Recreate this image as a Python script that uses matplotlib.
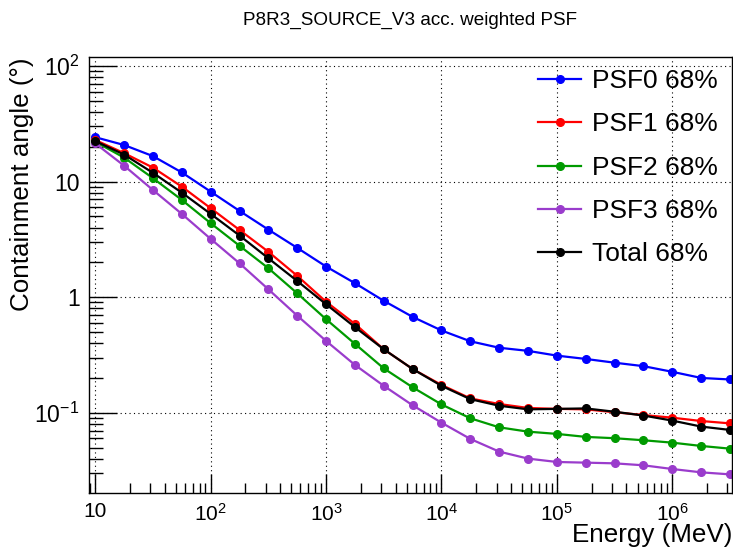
"""
Containment angle vs energy for P8R3_SOURCE_V3 PSF event types (ROOT-like style).
"""
import numpy as np
import matplotlib
matplotlib.use("Agg")
import matplotlib.pyplot as plt
import matplotlib.ticker as mtick

plt.rcParams["font.family"] = ["Liberation Sans", "DejaVu Sans"]
plt.rcParams["mathtext.fontset"] = "custom"
plt.rcParams["mathtext.rm"] = "Liberation Sans"
plt.rcParams["mathtext.it"] = "Liberation Sans:italic"

# energies: 10 MeV to 10^6.5 MeV in quarter-decade steps
energy = [10.0, 17.8, 31.6, 56.2, 100.0, 178.0, 316.0, 562.0, 1000.0, 1780.0,
          3160.0, 5620.0, 1.0e4, 1.78e4, 3.16e4, 5.62e4, 1.0e5, 1.78e5, 3.16e5,
          5.62e5, 1.0e6, 1.78e6, 3.16e6]

psf0 = [24.2, 20.7, 16.6, 12.0, 8.18, 5.57, 3.84, 2.67, 1.84, 1.32, 0.93, 0.675,
        0.515, 0.415, 0.365, 0.343, 0.312, 0.292, 0.271, 0.253, 0.226, 0.200, 0.194]
psf1 = [22.9, 17.6, 13.2, 9.04, 5.88, 3.81, 2.47, 1.53, 0.912, 0.586, 0.354, 0.239,
        0.174, 0.133, 0.119, 0.110, 0.108, 0.107, 0.101, 0.0955, 0.0906, 0.0848, 0.0809]
psf2 = [22.1, 16.1, 10.7, 6.94, 4.36, 2.78, 1.78, 1.08, 0.644, 0.394, 0.242, 0.166,
        0.118, 0.0895, 0.0748, 0.0686, 0.0656, 0.0618, 0.0602, 0.0578, 0.0551, 0.0516, 0.0489]
psf3 = [21.4, 13.7, 8.45, 5.25, 3.19, 1.96, 1.17, 0.692, 0.418, 0.259, 0.171, 0.116,
        0.082, 0.0593, 0.0461, 0.0401, 0.0375, 0.037, 0.0365, 0.0351, 0.0326, 0.0305, 0.0293]
total = [22.4, 17.1, 11.9, 8.02, 5.25, 3.41, 2.17, 1.38, 0.868, 0.550, 0.354, 0.239,
         0.171, 0.131, 0.115, 0.107, 0.108, 0.109, 0.102, 0.0946, 0.0855, 0.0759, 0.071]

labels = ["PSF0 68%", "PSF1 68%", "PSF2 68%", "PSF3 68%", "Total 68%"]
colors = ["#0000ff", "#ff0000", "#009a00", "#9a3ccc", "#000000"]


def log_label(v, pos):
    e = int(round(np.log10(v)))
    if e == 0:
        return "1"
    if e == 1:
        return "10"
    return r"$\mathregular{10^{%d}}$" % e


fig = plt.figure(figsize=(7.33, 5.49), dpi=100)
ax = fig.add_axes([0.1218, 0.1025, 0.8768, 0.7931])

for ys, lab, col in zip([psf0, psf1, psf2, psf3, total], labels, colors):
    ax.plot(energy, ys, color=col, lw=1.6, marker="o", ms=5.5, label=lab)

ax.set_xscale("log")
ax.set_yscale("log")
ax.set_xlim(10 ** 0.948, 10 ** 6.517)
ax.set_ylim(10 ** -1.692, 10 ** 2.075)

ax.xaxis.set_major_locator(mtick.LogLocator(base=10, numticks=20))
ax.xaxis.set_minor_locator(mtick.LogLocator(base=10, subs=np.arange(2, 10), numticks=20))
ax.yaxis.set_major_locator(mtick.LogLocator(base=10, numticks=20))
ax.yaxis.set_minor_locator(mtick.LogLocator(base=10, subs=np.arange(2, 10), numticks=20))
ax.xaxis.set_major_formatter(mtick.FuncFormatter(log_label))
ax.yaxis.set_major_formatter(mtick.FuncFormatter(log_label))
ax.xaxis.set_minor_formatter(mtick.NullFormatter())
ax.yaxis.set_minor_formatter(mtick.NullFormatter())

ax.tick_params(axis="both", which="both", direction="in", top=False, right=False,
               width=1, color="black")
ax.tick_params(axis="x", which="major", length=14, pad=7, labelsize=15)
ax.tick_params(axis="x", which="minor", length=7)
ax.tick_params(axis="y", which="major", length=20, pad=7, labelsize=16.5)
ax.tick_params(axis="y", which="minor", length=10)

ax.grid(True, which="major", color="black", linestyle=(0, (1, 3)), linewidth=0.8)
for sp in ax.spines.values():
    sp.set_linewidth(1)

ax.set_xlabel("Energy (MeV)", fontsize=18.7, loc="right", labelpad=-1)
ax.set_ylabel("Containment angle (°)", fontsize=18.7, loc="top", labelpad=0)
fig.suptitle("P8R3_SOURCE_V3 acc. weighted PSF", fontsize=13.6, x=0.56, y=0.978)

ax.legend(loc="upper right", frameon=False, fontsize=19, handlelength=1.63,
          handletextpad=0.42, labelspacing=0.73, borderaxespad=0.2,
          bbox_to_anchor=(1.003, 1.009))

fig.savefig("out.png", dpi=100)
